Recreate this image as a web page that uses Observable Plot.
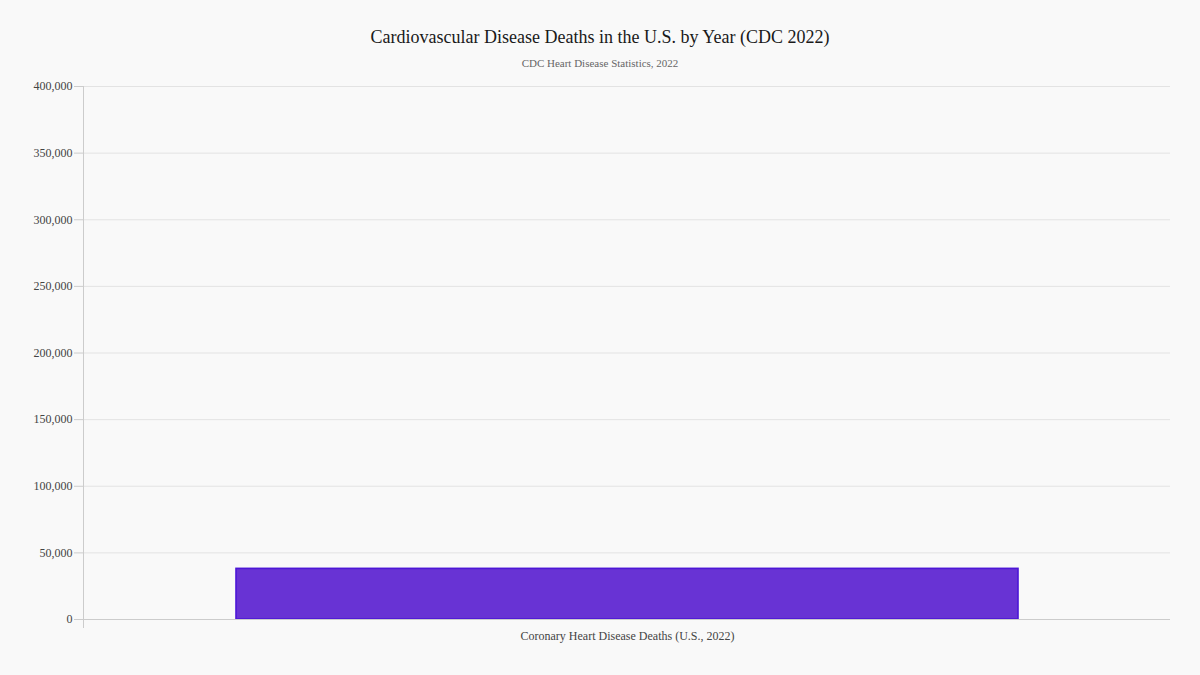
<!DOCTYPE html>
<html>
<head>
<meta charset="utf-8">
<script src="https://cdn.jsdelivr.net/npm/d3@7"></script>
<script src="https://cdn.jsdelivr.net/npm/@observablehq/plot@0.6"></script>
<style>
  html, body { margin: 0; padding: 0; background: #f9f9f9; }
  #wrap { width: 1200px; height: 675px; position: relative; font-family: "Liberation Serif", "DejaVu Serif", serif; }
  #title { position: absolute; top: 27px; left: 0; width: 1200px; text-align: center; font-size: 18px; color: #1a1a1a; }
  #subtitle { position: absolute; top: 57px; left: 0; width: 1200px; text-align: center; font-size: 11px; color: #666; }
  #chart { position: absolute; top: 70px; left: 0; }
</style>
</head>
<body>
<div id="wrap">
  <div id="title">Cardiovascular Disease Deaths in the U.S. by Year (CDC 2022)</div>
  <div id="subtitle">CDC Heart Disease Statistics, 2022</div>
  <div id="chart"></div>
</div>
<script>
const categories = ["Coronary Heart Disease Deaths (U.S., 2022)"];
const deaths = [38000];
const yTicks = [0, 50000, 100000, 150000, 200000, 250000, 300000, 350000, 400000];

const data = categories.map((c, i) => ({category: c, value: deaths[i]}));

const chart = Plot.plot({
  width: 1200,
  height: 605,
  marginTop: 16,
  marginLeft: 83,
  marginRight: 30,
  marginBottom: 48,
  insetBottom: 8,
  style: {background: "transparent", fontFamily: "'Liberation Serif', 'DejaVu Serif', serif", fontSize: "12px", color: "#444"},
  x: {domain: categories, padding: 0.163, label: null, tickSize: 0, tickPadding: 4},
  y: {domain: [0, 400000], ticks: yTicks, label: null, tickFormat: d3.format(","), grid: false},
  marks: [
    Plot.gridY(yTicks, {stroke: "#e3e3e3", strokeOpacity: 1}),
    Plot.barY(data, {x: "category", y: "value", fill: "#6833d4", stroke: "#4c16d6", strokeWidth: 1.6}),
    Plot.ruleY([0], {stroke: "#cccccc"}),
    Plot.frame({anchor: "left", stroke: "#cccccc"}),
    Plot.axisY(yTicks, {tickSize: 9, tickPadding: 2, stroke: "#cccccc", fill: "#444", tickFormat: d3.format(","), label: null, fontSize: 12}),
    Plot.axisX({tickSize: 0, tickPadding: 4, fill: "#444", label: null, fontSize: 12})
  ]
});
document.getElementById("chart").appendChild(chart);
</script>
</body>
</html>
